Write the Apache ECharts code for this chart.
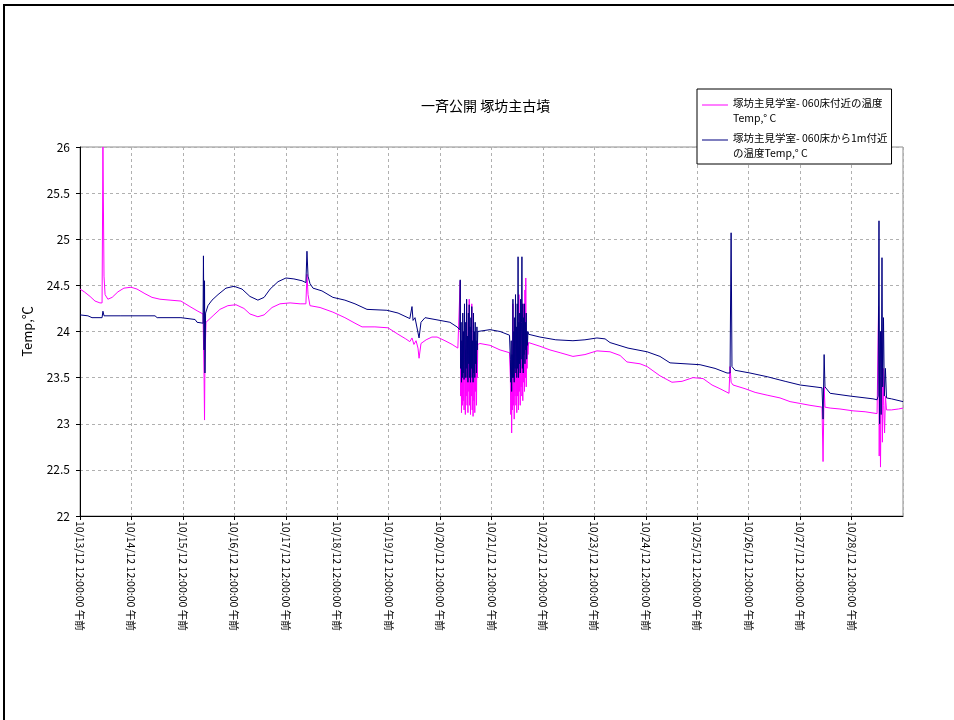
<!DOCTYPE html>
<html>
<head>
<meta charset="utf-8">
<script src="https://cdn.jsdelivr.net/npm/echarts@6/dist/echarts.min.js"></script>
<style>
  html, body { margin: 0; padding: 0; background: #fff; }
  #chart { width: 954px; height: 720px; }
</style>
</head>
<body>
<div id="chart"></div>
<script>
const chartTitle = '一斉公開 塚坊主古墳';
const yAxisName = 'Temp,℃';
const seriesNames = ['塚坊主見学室- 060床付近の温度Temp,° C', '塚坊主見学室- 060床から1m付近の温度Temp,° C'];
const legendLines = {
  '塚坊主見学室- 060床付近の温度Temp,° C': '塚坊主見学室- 060床付近の温度\nTemp,° C',
  '塚坊主見学室- 060床から1m付近の温度Temp,° C': '塚坊主見学室- 060床から1m付近\nの温度Temp,° C'
};
const xTickLabels = [
  '10/13/12 12:00:00 午前', '10/14/12 12:00:00 午前', '10/15/12 12:00:00 午前', '10/16/12 12:00:00 午前',
  '10/17/12 12:00:00 午前', '10/18/12 12:00:00 午前', '10/19/12 12:00:00 午前', '10/20/12 12:00:00 午前',
  '10/21/12 12:00:00 午前', '10/22/12 12:00:00 午前', '10/23/12 12:00:00 午前', '10/24/12 12:00:00 午前',
  '10/25/12 12:00:00 午前', '10/26/12 12:00:00 午前', '10/27/12 12:00:00 午前', '10/28/12 12:00:00 午前'
];
const yTicks = [22, 22.5, 23, 23.5, 24, 24.5, 25, 25.5, 26];

// [hours since 10/13/12 00:00, °C] — floor level sensor
const floorTemp = [
  [0,24.46],[2,24.43],[4.7,24.38],[7,24.33],[9.3,24.31],[10.3,24.31],[10.7,26.0],[11.2,24.6],[11.7,24.4],
  [13,24.35],[15,24.37],[17.7,24.43],[20.5,24.47],[23.8,24.48],[26.6,24.46],[30.3,24.41],[33.6,24.37],
  [37.3,24.35],[42,24.34],[47.1,24.33],[51.3,24.27],[55,24.22],[57.4,24.19],[57.9,23.5],[58.1,23.04],
  [58.3,23.7],[58.8,24.1],[59.7,24.12],[62.5,24.18],[65.3,24.24],[69,24.28],[72.8,24.29],[76.5,24.25],
  [79.3,24.19],[83,24.16],[85.9,24.18],[89.6,24.26],[93.3,24.3],[98,24.31],[102.7,24.3],[105.4,24.3],
  [105.9,24.62],[106.4,24.4],[107.3,24.28],[112,24.26],[118,24.21],[123.6,24.15],[128.3,24.09],
  [131.6,24.05],[137.6,24.05],[143.7,24.04],[148.4,23.97],[152,23.92],[153.9,23.89],[154.9,23.93],
  [155.8,23.86],[156.8,23.9],[157.7,23.82],[158.2,23.71],[159.1,23.87],[161.5,23.91],[164.2,23.94],
  [166.6,23.94],[170.3,23.9],[173.6,23.86],[176.3,23.82],
  [177.2,23.82],[177.4,24.55],[177.6,23.3],[177.8,23.9],[178.0,23.12],[178.2,23.6],[178.4,23.2],[178.6,24.0],
  [178.8,23.25],[179.0,23.7],[179.2,23.15],[179.4,24.25],[179.6,23.4],[179.8,23.1],[180.0,23.8],[180.2,23.3],
  [180.4,24.3],[180.6,23.2],[180.8,23.65],[181.0,23.12],[181.2,24.1],[181.4,23.35],[181.6,24.35],[181.8,23.2],
  [182.0,23.75],[182.2,23.1],[182.4,23.95],[182.6,23.3],[182.8,24.3],[183.0,23.15],[183.2,23.6],[183.4,23.08],
  [183.6,24.05],[183.8,23.25],[184.0,23.7],[184.2,23.12],[184.4,23.9],[184.6,23.35],[184.8,23.6],[185.0,23.2],
  [185.2,23.8],[185.4,23.5],[185.6,23.86],[185.8,23.88],
  [186.6,23.87],[191.3,23.85],[196,23.8],[200.4,23.77],
  [200.8,23.5],[201.0,23.1],[201.2,23.6],[201.4,22.9],[201.6,23.4],[201.8,23.15],[202.0,24.3],[202.2,23.2],
  [202.4,23.7],[202.6,23.05],[202.8,23.9],[203.0,23.3],[203.2,24.1],[203.4,23.2],[203.6,23.7],[203.8,23.12],
  [204.0,24.0],[204.2,23.3],[204.4,23.8],[204.6,23.15],[204.8,24.4],[205.0,23.35],[205.2,23.9],[205.4,23.2],
  [205.6,24.2],[205.8,23.4],[206.0,24.1],[206.2,23.3],[206.4,23.8],[206.6,23.25],[206.8,24.3],[207.0,23.45],
  [207.2,24.0],[207.4,23.35],[207.6,24.45],[207.8,23.5],[208.0,24.58],[208.2,23.4],[208.4,23.85],[208.6,23.6],
  [208.8,23.9],[209.0,23.75],[209.3,23.88],[209.7,23.87],[210.2,23.86],
  [214.6,23.84],[219.3,23.8],[224,23.77],[230,23.73],[235.6,23.75],[241.2,23.79],[247.3,23.78],[252,23.74],
  [255.2,23.67],[261.3,23.65],[264.6,23.62],[270.6,23.52],[276.2,23.45],[280.9,23.46],[286,23.5],
  [290.7,23.49],[294.9,23.42],[298.6,23.38],[302.8,23.33],[303.3,23.62],[303.8,23.45],[304.7,23.42],
  [310.3,23.38],[315,23.34],[320.6,23.31],[326.6,23.28],[331.3,23.24],[336,23.22],[340.6,23.2],
  [346.2,23.18],[346.7,22.59],[347.2,23.4],[347.6,23.18],[350,23.17],[354.6,23.16],[360.7,23.14],
  [366.3,23.13],[371.9,23.11],
  [372.3,23.12],[372.6,24.27],[372.9,22.65],[373.2,23.5],[373.5,22.53],[373.8,23.3],[374.1,24.0],
  [374.4,22.8],[374.7,23.6],[375.0,23.2],[375.4,22.9],[375.8,23.3],[376.3,23.15],
  [378.6,23.15],[381.9,23.16],[384,23.17]
];

// [hours since 10/13/12 00:00, °C] — 1 m above floor sensor
const oneMeterTemp = [
  [0,24.18],[3.7,24.17],[5.6,24.15],[10.3,24.15],[10.7,24.22],[11.2,24.17],[18.7,24.17],[35,24.17],
  [36,24.15],[47.1,24.15],[48,24.13],[53.7,24.13],[54.6,24.1],[57.4,24.09],[57.6,24.82],[57.9,23.8],
  [58.1,24.55],[58.3,23.55],[58.6,24.2],[59.7,24.28],[61.6,24.34],[64.4,24.4],[68.1,24.47],[71.9,24.49],
  [75.6,24.46],[79.3,24.38],[83,24.34],[85.9,24.37],[88.7,24.46],[92.4,24.54],[96.1,24.58],[99.8,24.57],
  [103.6,24.55],[105.4,24.53],[105.9,24.87],[106.4,24.6],[107.3,24.52],[108.7,24.47],[112.9,24.44],
  [118,24.37],[123.6,24.34],[128.3,24.3],[133.9,24.24],[143.2,24.23],[148.4,24.2],[153.9,24.14],
  [154.9,24.27],[155.4,24.12],[156.3,24.15],[158.2,23.93],[159.1,24.1],[161,24.15],[168,24.12],
  [172.6,24.1],[175.9,24.05],
  [177.2,24.02],[177.4,24.56],[177.6,23.6],[177.8,24.1],[178.0,23.45],[178.2,23.9],[178.4,23.5],[178.6,24.2],
  [178.8,23.55],[179.0,24.0],[179.2,23.48],[179.4,24.3],[179.6,23.7],[179.8,23.5],[180.0,24.1],[180.2,23.6],
  [180.4,24.35],[180.6,23.5],[180.8,23.95],[181.0,23.45],[181.2,24.2],[181.4,23.65],[181.6,24.29],[181.8,23.5],
  [182.0,24.05],[182.2,23.45],[182.4,24.15],[182.6,23.6],[182.8,24.27],[183.0,23.5],[183.2,23.9],[183.4,23.45],
  [183.6,24.2],[183.8,23.55],[184.0,24.0],[184.2,23.5],[184.4,24.1],[184.6,23.65],[184.8,23.9],[185.0,23.55],
  [185.2,24.05],[185.4,23.8],[185.6,24.0],[185.8,24.02],
  [191.3,24.02],[196,24.0],[200.4,23.96],
  [200.8,23.7],[201.0,23.45],[201.2,23.9],[201.4,23.35],[201.6,23.75],[201.8,23.5],[202.0,24.35],[202.2,23.5],
  [202.4,24.0],[202.6,23.45],[202.8,24.15],[203.0,23.6],[203.2,24.4],[203.4,23.55],[203.6,24.05],[203.8,23.5],
  [204.0,24.3],[204.2,23.6],[204.4,24.81],[204.6,23.5],[204.8,24.1],[205.0,23.65],[205.2,24.2],[205.4,23.55],
  [205.6,24.35],[205.8,23.7],[206.0,24.1],[206.2,24.81],[206.4,23.6],[206.6,24.3],[206.8,23.55],[207.0,24.15],
  [207.2,23.75],[207.4,24.3],[207.6,23.65],[207.8,24.1],[208.0,23.8],[208.2,24.2],[208.4,23.7],[208.6,24.0],
  [208.8,23.85],[209.0,24.0],[209.3,23.97],[209.7,23.96],[210.2,23.96],
  [214.6,23.94],[222,23.91],[230,23.9],[235.6,23.91],[241.2,23.93],[245,23.92],[247.3,23.88],[255.7,23.82],
  [264.6,23.78],[270.6,23.73],[275.3,23.66],[289.3,23.64],[296.3,23.6],[301.9,23.55],[303.3,23.55],
  [303.8,25.07],[304.2,23.62],[305.6,23.58],[312.6,23.55],[320.6,23.51],[329,23.46],[336,23.42],
  [346.2,23.39],[346.7,23.05],[347.2,23.75],[347.6,23.4],[350,23.33],[359.3,23.3],[370,23.27],[371.9,23.26],
  [372.4,23.3],[372.8,25.2],[373.1,23.0],[373.5,24.0],[373.8,23.1],[374.2,24.8],[374.5,23.4],[374.9,24.15],
  [375.3,23.3],[375.8,23.6],[376.3,23.28],
  [378.6,23.27],[384,23.24]
];

const seriesColors = ['#ff00ff', '#000080'];

const chart = echarts.init(document.getElementById('chart'), null, { renderer: 'canvas' });
const baseFont = '"Noto Sans CJK JP", "Liberation Sans", sans-serif';

chart.setOption({
  backgroundColor: '#ffffff',
  animation: false,
  textStyle: { fontFamily: baseFont },
  title: {
    text: chartTitle,
    left: 416,
    top: 94,
    textStyle: { fontSize: 14, fontWeight: 'normal', color: '#000', fontFamily: baseFont }
  },
  graphic: [{
    type: 'rect',
    silent: true,
    shape: { x: 4, y: 5, width: 1100, height: 1100 },
    style: { fill: 'none', stroke: '#000', lineWidth: 2 }
  }],
  legend: {
    orient: 'vertical',
    left: 697,
    top: 89,
    padding: [7, 4, 3, 5],
    itemGap: 5,
    itemWidth: 26,
    itemHeight: 13,
    borderColor: '#000',
    borderWidth: 1,
    backgroundColor: '#fff',
    icon: 'path://M0,0L26,0L26,1L0,1Z M0,13L0.01,13L0.01,13.01L0,13.01Z',
    itemStyle: { borderWidth: 0 },
    data: seriesNames,
    formatter: name => legendLines[name],
    textStyle: { fontSize: 10.5, lineHeight: 15, color: '#000', fontFamily: baseFont }
  },
  grid: {
    left: 80, right: 51, top: 147, bottom: 204,
    show: true, borderColor: '#8c8c8c', borderWidth: 1, backgroundColor: 'transparent',
    containLabel: false
  },
  xAxis: {
    type: 'value',
    min: 0,
    max: 384,
    interval: 24,
    axisLine: { show: true, lineStyle: { color: '#000', width: 1 } },
    axisTick: { show: true, length: 4, lineStyle: { color: '#000' } },
    splitLine: { show: true, lineStyle: { color: '#b0b0b0', type: [3, 3], width: 1 } },
    axisLabel: {
      rotate: -90,
      margin: 5,
      fontSize: 10.5,
      color: '#000',
      fontFamily: baseFont,
      showMaxLabel: false,
      formatter: v => xTickLabels[Math.round(v / 24)] || ''
    }
  },
  yAxis: {
    type: 'value',
    min: yTicks[0],
    max: yTicks[yTicks.length - 1],
    interval: 0.5,
    name: yAxisName,
    nameLocation: 'middle',
    nameGap: 46,
    nameRotate: 90,
    nameTextStyle: { fontSize: 13, color: '#000', fontFamily: baseFont },
    axisLine: { show: true, lineStyle: { color: '#000', width: 1 } },
    axisTick: { show: true, length: 4, lineStyle: { color: '#000' } },
    splitLine: { show: true, lineStyle: { color: '#b0b0b0', type: [3, 3], width: 1 } },
    axisLabel: { fontSize: 12, color: '#000', margin: 10, fontFamily: baseFont }
  },
  series: [
    {
      name: seriesNames[0],
      type: 'line',
      data: floorTemp,
      symbol: 'none',
      clip: true,
      color: seriesColors[0],
      lineStyle: { color: seriesColors[0], width: 1 },
      z: 2
    },
    {
      name: seriesNames[1],
      type: 'line',
      data: oneMeterTemp,
      symbol: 'none',
      clip: true,
      color: seriesColors[1],
      lineStyle: { color: seriesColors[1], width: 1 },
      z: 3
    }
  ]
});
</script>
</body>
</html>
